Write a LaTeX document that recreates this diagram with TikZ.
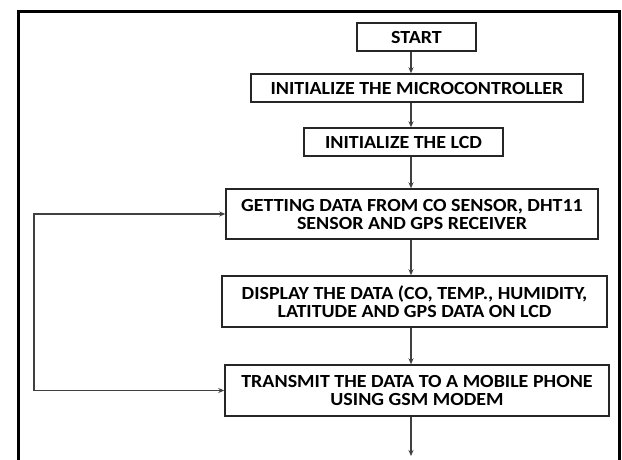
\documentclass[tikz,border=0pt]{standalone}
\usepackage{fontspec}
\setmainfont{Carlito}[FakeStretch=1.08]
\usetikzlibrary{arrows.meta}
\tikzset{
  stepbox/.style={draw=black!85, line width=1.5pt, rectangle, inner sep=0pt,
    align=center, font=\bfseries\fontsize{18.5}{18}\selectfont, text=black},
  flow/.style={draw=black!75, line width=1.2pt, -{Stealth[length=6pt,width=5pt]}},
  loopback/.style={draw=black!75, line width=1.2pt,
    {Stealth[length=6pt,width=5pt]}-{Stealth[length=6pt,width=5pt]}},
}
\begin{document}
\begin{tikzpicture}[x=1pt,y=-1pt]
\useasboundingbox (0,0) rectangle (622,459);
\fill[white] (0,0) rectangle (622,459);
% outer frame, open at the bottom
\draw[line width=2.8pt] (18.5,470) -- (18.5,11.5) -- (619.5,11.5) -- (619.5,470);

% flow steps
\node[stepbox, minimum width=119pt, minimum height=28pt] (start) at (416.5,37) {START};
\node[stepbox, minimum width=332pt, minimum height=28pt] (micro) at (417,88) {INITIALIZE THE MICROCONTROLLER};
\node[stepbox, minimum width=199pt, minimum height=28pt] (lcd) at (403.5,142) {INITIALIZE THE LCD};
\node[stepbox, minimum width=372pt, minimum height=50pt] (get) at (412,214)
  {GETTING DATA FROM CO SENSOR, DHT11\\SENSOR AND GPS RECEIVER};
\node[stepbox, minimum width=385pt, minimum height=51pt] (disp) at (414.5,301.5)
  {DISPLAY THE DATA (CO, TEMP., HUMIDITY,\\LATITUDE AND GPS DATA ON LCD};
\node[stepbox, minimum width=384pt, minimum height=51pt] (send) at (417,390.5)
  {TRANSMIT THE DATA TO A MOBILE PHONE\\USING GSM MODEM};

% vertical spine of the arrows
\coordinate (spine) at (411,0);
\coordinate (tail) at (411,456);
\coordinate (back) at (34,214);

\draw[flow] (start.south -| spine) -- (micro.north -| spine);
\draw[flow] (micro.south -| spine) -- (lcd.north -| spine);
\draw[flow] (lcd.south -| spine) -- (get.north -| spine);
\draw[flow] (get.south -| spine) -- (disp.north -| spine);
\draw[flow] (disp.south -| spine) -- (send.north -| spine);
\draw[flow] (send.south -| spine) -- (tail);

% return path to the data acquisition step
\draw[loopback] (send.west) -| (back) -- (get.west);
\end{tikzpicture}
\end{document}
